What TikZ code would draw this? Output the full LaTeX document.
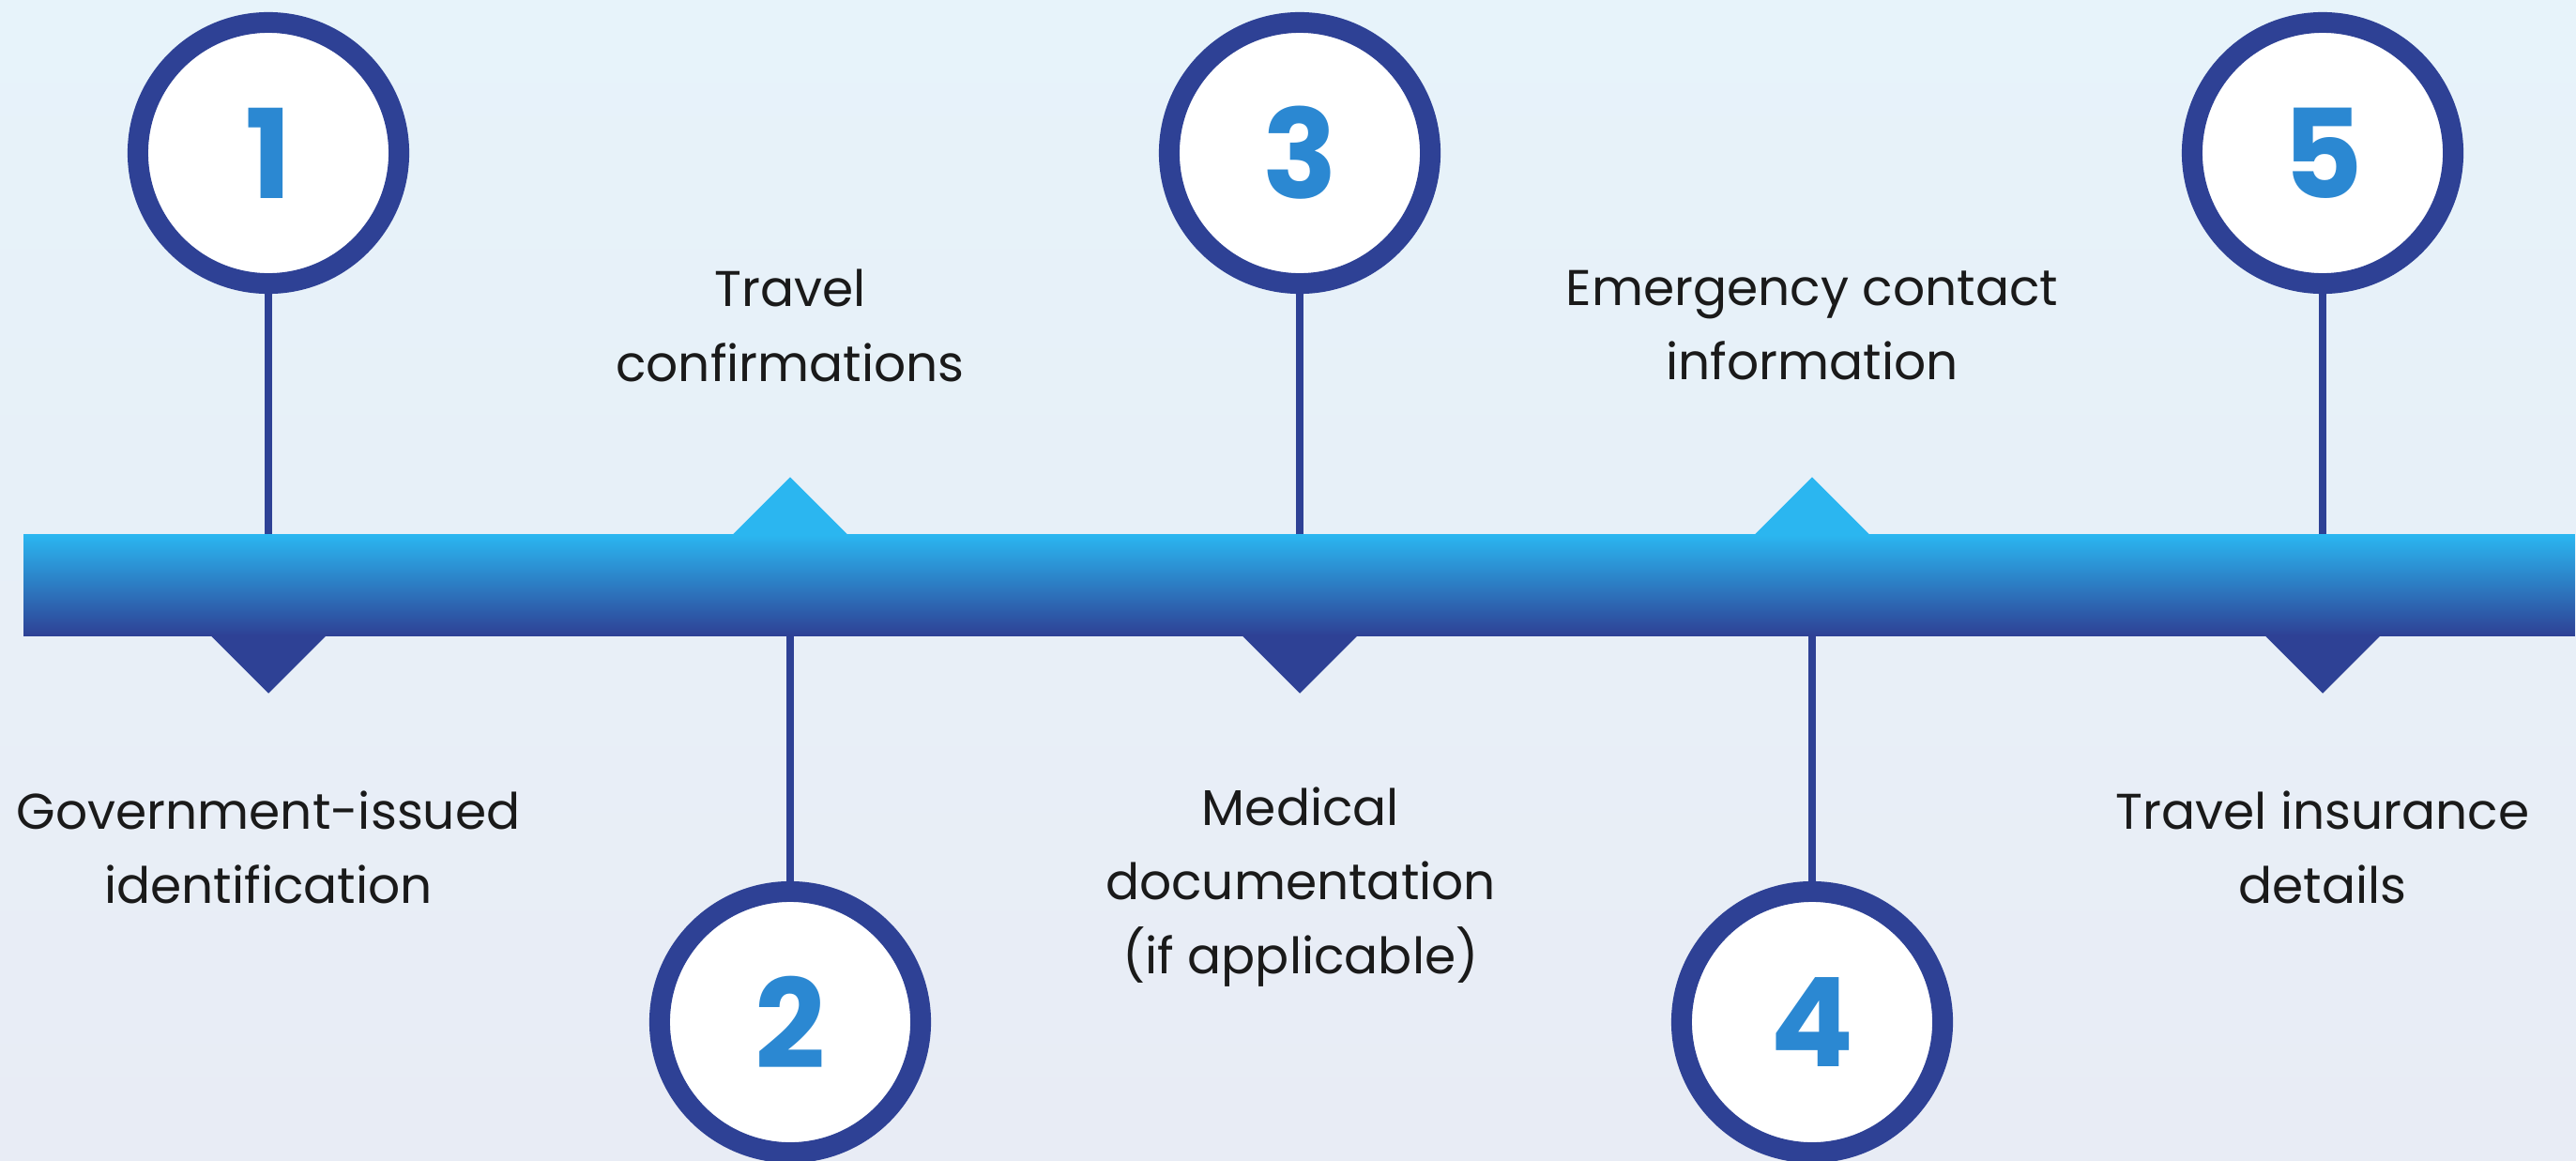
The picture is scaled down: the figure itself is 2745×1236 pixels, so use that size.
\documentclass[tikz,border=0pt]{standalone}
\usepackage{fontspec}
\setmainfont{Poppins}
\usetikzlibrary{calc, positioning, shapes}
\definecolor{navy}{HTML}{2E4195}
\definecolor{sky}{HTML}{2BB6F0}
\definecolor{digit}{HTML}{2B88D2}
\definecolor{ink}{HTML}{1A1A1A}
\definecolor{bgtop}{HTML}{E7F3FA}
\definecolor{bgbot}{HTML}{E8ECF5}

\begin{document}
\begin{tikzpicture}[x=0.01cm, y=-0.01cm,
    numcircle/.style={circle, draw=navy, fill=white, line width=0.22cm, minimum size=2.78cm, inner sep=0pt,
      text=digit, font=\fontsize{37.5}{38}\selectfont\bfseries},
    timebar/.style={rectangle, inner sep=0pt, minimum width=27.17cm, minimum height=1.07cm,
      top color=sky, bottom color=navy},
    stem/.style={navy, line width=0.08cm},
    caption/.style={align=center, text=ink, font=\fontsize{15.2}{22.5}\selectfont}]
  \useasboundingbox (0,0) rectangle (2745,1236);
  \shade[top color=bgtop, bottom color=bgbot] (0,0) rectangle (2745,1236);

  % numbered markers
  \node[numcircle] (c1) at (286,163) {1};
  \node[numcircle] (c2) at (842,1089) {2};
  \node[numcircle] (c3) at (1385,163) {3};
  \node[numcircle] (c4) at (1931,1089) {4};
  \node[numcircle] (c5) at (2475,163) {5};

  \node[timebar] (bar) at (1384.5,623.5) {};

  \draw[stem] (c1.south) -- (c1 |- bar.north);
  \draw[stem] (c2.north) -- (c2 |- bar.south);
  \draw[stem] (c3.south) -- (c3 |- bar.north);
  \draw[stem] (c4.north) -- (c4 |- bar.south);
  \draw[stem] (c5.south) -- (c5 |- bar.north);

  % pointers on the bar
  \fill[navy] ($(c1 |- bar.south)+(-62,-1)$) -- ++(124,0) -- ($(c1 |- bar.south)+(0,61)$) -- cycle;
  \fill[sky] ($(c2 |- bar.north)+(-62,1)$) -- ++(124,0) -- ($(c2 |- bar.north)+(0,-61)$) -- cycle;
  \fill[navy] ($(c3 |- bar.south)+(-62,-1)$) -- ++(124,0) -- ($(c3 |- bar.south)+(0,61)$) -- cycle;
  \fill[sky] ($(c4 |- bar.north)+(-62,1)$) -- ++(124,0) -- ($(c4 |- bar.north)+(0,-61)$) -- cycle;
  \fill[navy] ($(c5 |- bar.south)+(-62,-1)$) -- ++(124,0) -- ($(c5 |- bar.south)+(0,61)$) -- cycle;

  \node[caption] (t1) at (286,903) {Government-issued\\identification};
  \node[caption] (t2) at (842,347) {Travel\\confirmations};
  \node[caption] (t3) at (1386,945) {Medical\\documentation\\(if applicable)};
  \node[caption] (t4) at (1931,347) {Emergency contact\\information};
  \node[caption] (t5) at (2475,903) {Travel insurance\\details};
\end{tikzpicture}
\end{document}
